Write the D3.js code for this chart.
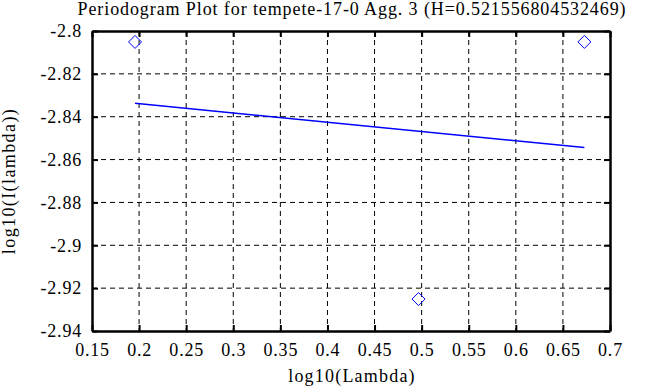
<!DOCTYPE html>
<html>
<head>
<meta charset="utf-8">
<script src="https://cdn.jsdelivr.net/npm/d3@7/dist/d3.min.js"></script>
<style>
body { margin: 0; background: #fff; }
text { font-family: "Liberation Serif", "DejaVu Serif", serif; fill: #000; }
</style>
</head>
<body>
<script>
var width = 668;
var height = 387;

var margin = { top: 31, right: 58, bottom: 56, left: 92 };

var title = 'Periodogram Plot for tempete-17-0 Agg. 3 (H=0.521556804532469)';

// periodogram points
var logLambda = [0.1957, 0.4967, 0.6728];
var logI = [-2.8051, -2.9251, -2.8051];

// fitted line end points
var fitX = [0.1957, 0.6728];
var fitY = [-2.8337, -2.8544];

var xTicks = [0.15, 0.2, 0.25, 0.3, 0.35, 0.4, 0.45, 0.5, 0.55, 0.6, 0.65, 0.7];
var yTicks = [-2.8, -2.82, -2.84, -2.86, -2.88, -2.9, -2.92, -2.94];

var x = d3.scaleLinear().domain([0.15, 0.7]).range([margin.left, width - margin.right]);
var y = d3.scaleLinear().domain([-2.94, -2.8]).range([height - margin.bottom, margin.top]);

var svg = d3.select('body')
    .append('svg')
    .attr('width', width)
    .attr('height', height);

// grid
svg.append('g')
    .selectAll('line')
    .data(xTicks.slice(1, -1))
    .enter()
    .append('line')
    .attr('x1', function(d) { return x(d); })
    .attr('x2', function(d) { return x(d); })
    .attr('y1', y(-2.8))
    .attr('y2', y(-2.94))
    .attr('stroke', '#000')
    .attr('stroke-dasharray', '5,4');

svg.append('g')
    .selectAll('line')
    .data(yTicks.slice(1, -1))
    .enter()
    .append('line')
    .attr('y1', function(d) { return y(d); })
    .attr('y2', function(d) { return y(d); })
    .attr('x1', x(0.15))
    .attr('x2', x(0.7))
    .attr('stroke', '#000')
    .attr('stroke-dasharray', '5,4');

// axes with inward ticks
var xBottom = svg.append('g')
    .attr('transform', 'translate(0,' + y(-2.94) + ')')
    .call(d3.axisBottom(x).tickValues(xTicks).tickSizeInner(-6).tickSizeOuter(0).tickPadding(12)
        .tickFormat(function(d) { return String(d); }));
var xTop = svg.append('g')
    .attr('transform', 'translate(0,' + y(-2.8) + ')')
    .call(d3.axisTop(x).tickValues(xTicks).tickSizeInner(-6).tickSizeOuter(0).tickFormat(''));
var yLeft = svg.append('g')
    .attr('transform', 'translate(' + x(0.15) + ',0)')
    .call(d3.axisLeft(y).tickValues(yTicks).tickSizeInner(-6).tickSizeOuter(0).tickPadding(10)
        .tickFormat(function(d) { return String(d); }));
var yRight = svg.append('g')
    .attr('transform', 'translate(' + x(0.7) + ',0)')
    .call(d3.axisRight(y).tickValues(yTicks).tickSizeInner(-6).tickSizeOuter(0).tickFormat(''));

[xBottom, xTop, yLeft, yRight].forEach(function(g) {
    g.attr('font-family', null).attr('font-size', null);
    g.select('.domain').attr('stroke-width', 2.5);
    g.selectAll('.tick line').attr('stroke-width', 2);
    g.selectAll('text')
        .style('font-family', '"Liberation Serif", serif')
        .style('font-size', '18px')
        .style('letter-spacing', '0.8px');
});
xBottom.selectAll('.tick text').attr('dy', '0.71em');
yLeft.selectAll('.tick text').attr('dy', '0.32em');

// fit line
svg.append('line')
    .attr('x1', x(fitX[0]))
    .attr('y1', y(fitY[0]))
    .attr('x2', x(fitX[1]))
    .attr('y2', y(fitY[1]))
    .attr('stroke', '#0000ff')
    .attr('stroke-width', 1.5);

// diamonds
svg.append('g')
    .selectAll('path')
    .data(logLambda)
    .enter()
    .append('path')
    .attr('d', function(d, i) {
        var cx = x(d), cy = y(logI[i]), r = 6.5;
        return 'M' + cx + ',' + (cy - r) + 'L' + (cx + r) + ',' + cy + 'L' + cx + ',' + (cy + r) + 'L' + (cx - r) + ',' + cy + 'Z';
    })
    .attr('fill', 'none')
    .attr('stroke', '#0000ff')
    .attr('stroke-width', 1);

// titles
svg.append('text')
    .attr('x', 352)
    .attr('y', 15)
    .attr('text-anchor', 'middle')
    .style('font-size', '18px')
    .style('letter-spacing', '0.9px')
    .text(title);

svg.append('text')
    .attr('x', 352)
    .attr('y', 382)
    .attr('text-anchor', 'middle')
    .style('font-size', '18px')
    .style('letter-spacing', '1.2px')
    .text('log10(Lambda)');

svg.append('text')
    .attr('transform', 'translate(15,181) rotate(-90)')
    .attr('text-anchor', 'middle')
    .style('font-size', '18px')
    .style('letter-spacing', '1.4px')
    .text('log10(I(lambda))');
</script>
</body>
</html>
